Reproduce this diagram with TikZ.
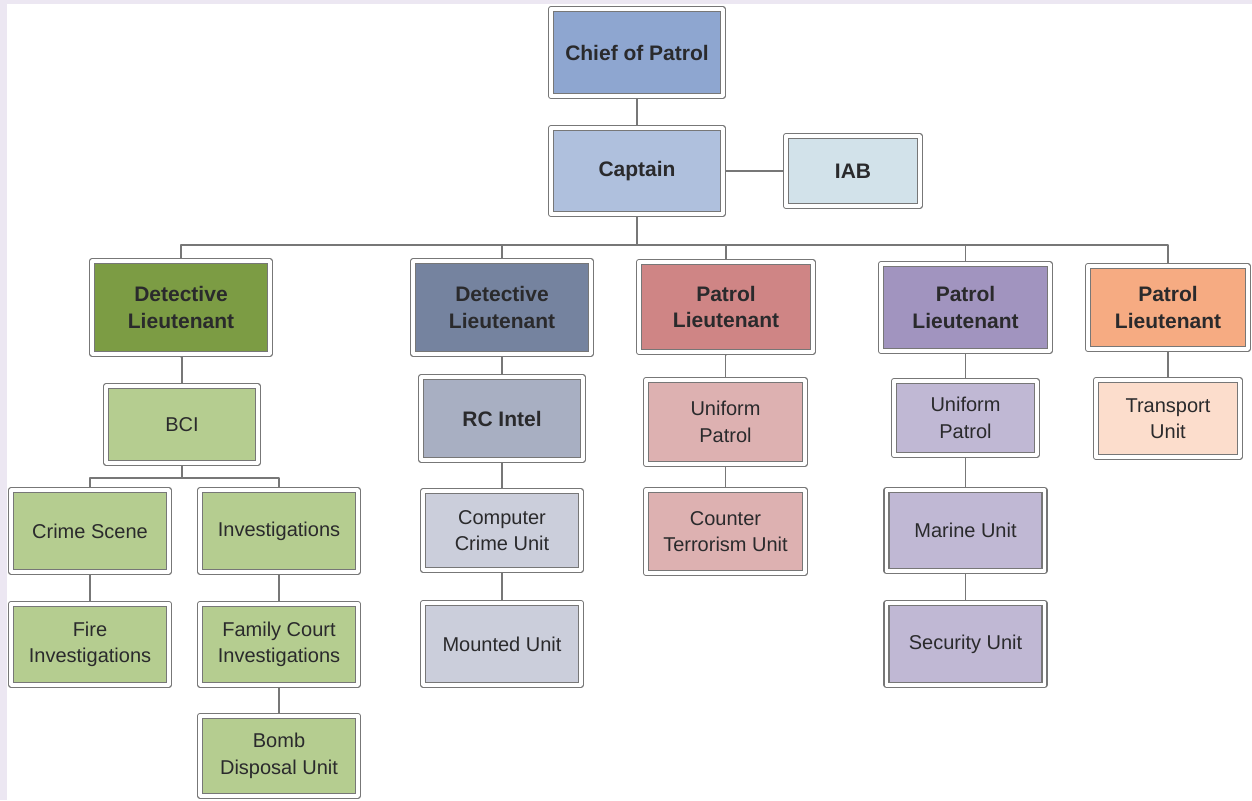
\documentclass[tikz,border=0pt]{standalone}
\usepackage{fontspec}
\setmainfont{Liberation Sans}
\definecolor{lavender}{HTML}{ECE7F2}
\definecolor{boxline}{HTML}{777777}
\definecolor{txt}{HTML}{2A2A2C}
\definecolor{chiefc}{HTML}{8EA6D0}
\definecolor{captc}{HTML}{AFC0DD}
\definecolor{iabc}{HTML}{D2E2EA}
\definecolor{dgreen}{HTML}{7C9C44}
\definecolor{lgreen}{HTML}{B5CD90}
\definecolor{dslate}{HTML}{75839F}
\definecolor{mslate}{HTML}{A8AFC2}
\definecolor{lslate}{HTML}{CBCEDB}
\definecolor{drose}{HTML}{CF8585}
\definecolor{lrose}{HTML}{DDB1B1}
\definecolor{dpurp}{HTML}{A194BF}
\definecolor{lpurp}{HTML}{C0B8D4}
\definecolor{dorange}{HTML}{F6AB82}
\definecolor{lorange}{HTML}{FCDDCC}
\begin{document}
\begin{tikzpicture}[x=1pt,y=-1pt,line cap=round,line join=round,
	box/.style={draw=boxline,line width=1.4pt,double=white,double distance=3.4pt,outer sep=3.1pt,
		align=center,inner sep=1pt,text=txt,font=\fontsize{20}{26.5}\selectfont},
	head/.style={box,font=\bfseries\fontsize{21}{26.5}\selectfont},
	conn/.style={draw=boxline,line width=1.3pt}]
		% page
		\useasboundingbox (0,0) rectangle (1252,800);
		\fill[lavender] (0,0) rectangle (1252,800);
		\fill[white] (7,4) rectangle (1252,800);
		% top
		\node[head,fill=chiefc,minimum width=172pt,minimum height=87pt] (chief) at (637,52.5) {Chief of Patrol};
		\node[head,fill=captc,minimum width=172pt,minimum height=86pt] (captain) at (637,171) {Captain};
		\node[head,fill=iabc,minimum width=134pt,minimum height=70pt] (iab) at (853,171) {IAB};
		% lieutenants
		\node[head,fill=dgreen,minimum width=178pt,minimum height=93pt] (dlt1) at (181,307.5) {Detective\\Lieutenant};
		\node[head,fill=dslate,minimum width=178pt,minimum height=93pt] (dlt2) at (502,307.5) {Detective\\Lieutenant};
		\node[head,fill=drose,minimum width=174pt,minimum height=90pt] (plt1) at (726,307) {Patrol\\Lieutenant};
		\node[head,fill=dpurp,minimum width=169pt,minimum height=87pt] (plt2) at (965.5,307.5) {Patrol\\Lieutenant};
		\node[head,fill=dorange,minimum width=160pt,minimum height=83pt] (plt3) at (1168,307.5) {Patrol\\Lieutenant};
		% detective units
		\node[box,fill=lgreen,minimum width=152pt,minimum height=77pt] (bci) at (182,424.5) {BCI};
		\node[box,fill=lgreen,minimum width=158pt,minimum height=82pt] (crime) at (90,531) {Crime Scene};
		\node[box,fill=lgreen,minimum width=158pt,minimum height=82pt] (invest) at (279,531) {Investigations};
		\node[box,fill=lgreen,minimum width=158pt,minimum height=81pt] (fire) at (90,644.5) {Fire\\Investigations};
		\node[box,fill=lgreen,minimum width=158pt,minimum height=81pt] (family) at (279,644.5) {Family Court\\Investigations};
		\node[box,fill=lgreen,minimum width=158pt,minimum height=80pt] (bomb) at (279,756) {Bomb\\Disposal Unit};
		\node[head,fill=mslate,minimum width=162pt,minimum height=83pt] (rcintel) at (502,418.5) {RC Intel};
		\node[box,fill=lslate,minimum width=158pt,minimum height=79pt] (comp) at (502,530.5) {Computer\\Crime Unit};
		\node[box,fill=lslate,minimum width=158pt,minimum height=82pt] (mounted) at (502,644) {Mounted Unit};
		% patrol units
		\node[box,fill=lrose,minimum width=159pt,minimum height=84pt] (unif1) at (725.5,422) {Uniform\\Patrol};
		\node[box,fill=lrose,minimum width=159pt,minimum height=83pt] (counter) at (725.5,531.5) {Counter\\Terrorism Unit};
		\node[box,fill=lpurp,minimum width=143pt,minimum height=74pt] (unif2) at (965.5,418) {Uniform\\Patrol};
		\node[box,fill=lpurp,minimum width=158pt,minimum height=81pt] (marine) at (965.5,530.5) {Marine Unit};
		\node[box,fill=lpurp,minimum width=158pt,minimum height=82pt] (security) at (965.5,644) {Security Unit};
		\node[box,fill=lorange,minimum width=144pt,minimum height=77pt] (transport) at (1168,418.5) {Transport\\Unit};
		% lines
		\coordinate (bus) at (637,245);
		\coordinate (bcibus) at (182,478);
		\draw[conn] (chief) -- (captain);
		\draw[conn] (captain) -- (iab);
		\draw[conn] (captain) -- (bus);
		\draw[conn] (dlt1.north) |- (bus) -| (plt3.north);
		\foreach \n in {dlt2,plt1,plt2}
			\draw[conn] (\n.north) -- (\n.north |- bus);
		\draw[conn] (bci) -- (bci.south |- bcibus);
		\draw[conn] (crime.north) |- (bcibus) -| (invest.north);
		\foreach \a/\b in {dlt1/bci,crime/fire,invest/family,family/bomb,dlt2/rcintel,rcintel/comp,comp/mounted,
			plt1/unif1,unif1/counter,plt2/unif2,unif2/marine,marine/security,plt3/transport}
			\draw[conn] (\a.south) -- (\a.south -| \b.north) -- (\b.north);
		\end{tikzpicture}
\end{document}
